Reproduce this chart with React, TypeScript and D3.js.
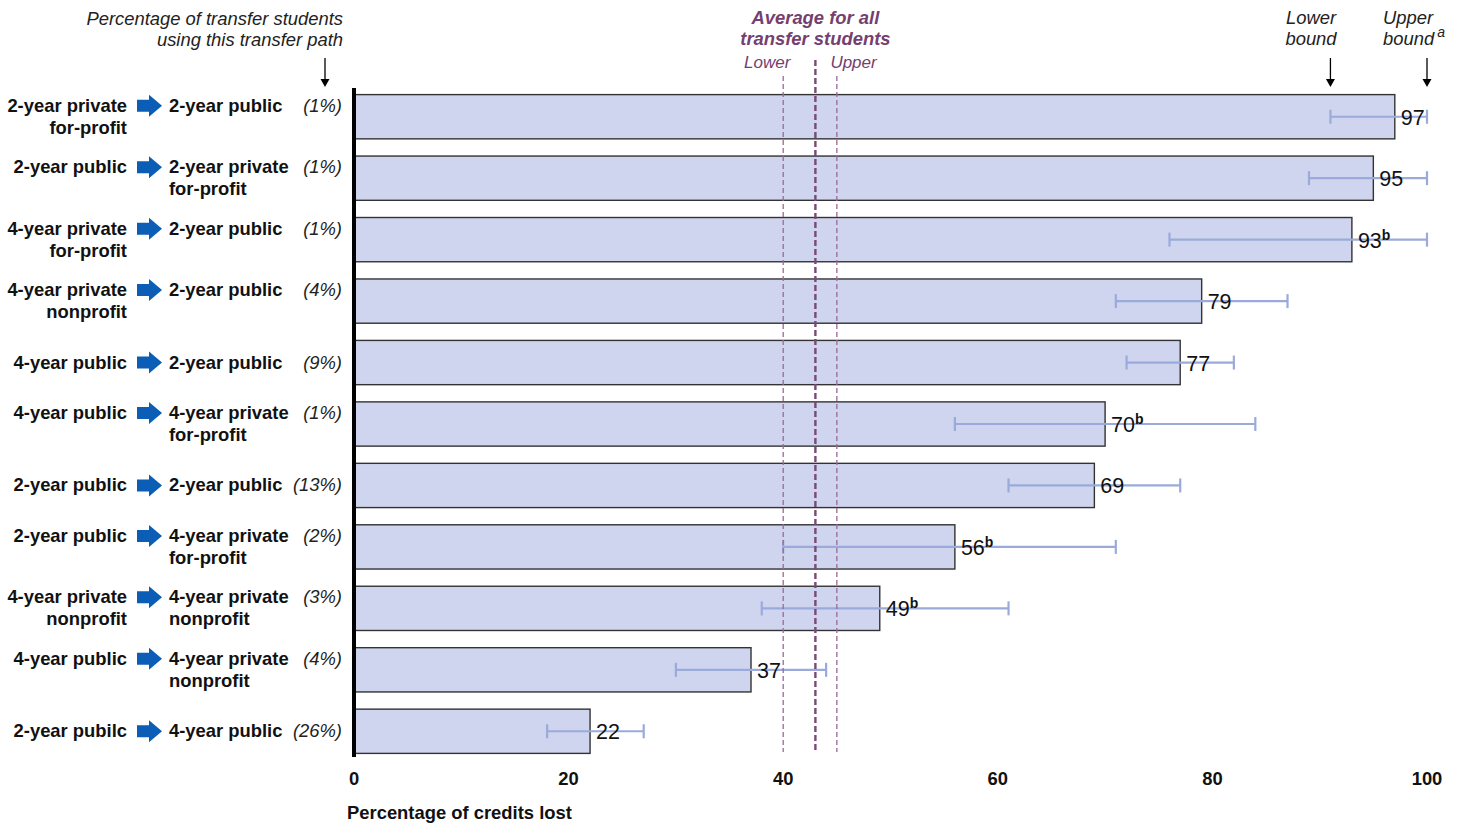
import React from "react";
import * as d3 from "d3";

const fromLabels = [
  "2-year private|for-profit",
  "2-year public",
  "4-year private|for-profit",
  "4-year private|nonprofit",
  "4-year public",
  "4-year public",
  "2-year public",
  "2-year public",
  "4-year private|nonprofit",
  "4-year public",
  "2-year pubilc",
];
const toLabels = [
  "2-year public",
  "2-year private|for-profit",
  "2-year public",
  "2-year public",
  "2-year public",
  "4-year private|for-profit",
  "2-year public",
  "4-year private|for-profit",
  "4-year private|nonprofit",
  "4-year private|nonprofit",
  "4-year public",
];
const shares = ["(1%)", "(1%)", "(1%)", "(4%)", "(9%)", "(1%)", "(13%)", "(2%)", "(3%)", "(4%)", "(26%)"];
const values = [97, 95, 93, 79, 77, 70, 69, 56, 49, 37, 22];
const lowerBounds = [91, 89, 76, 71, 72, 56, 61, 40, 38, 30, 18];
const upperBounds = [100, 100, 100, 87, 82, 84, 77, 71, 61, 44, 27];
const footnoteB = [false, false, true, false, false, true, false, true, true, false, false];
const xTicks = [0, 20, 40, 60, 80, 100];
const avgAll = 43;
const avgLower = 40;
const avgUpper = 45;

const FONT = "'Liberation Sans', Arial, sans-serif";
const PURPLE = "#74406F";
const FS = 18.4;

export default function App() {
  const W = 1460;
  const H = 825;
  const x = d3.scaleLinear().domain([0, 100]).range([354, 1427]);
  const idx = values.map((_, i) => i);
  const y = d3.scaleBand<number>().domain(idx).range([86, 762]).paddingInner(0.28).paddingOuter(0.14);
  const bw = y.bandwidth();
  const cy = (i: number) => (y(i) as number) + bw / 2;
  const barColor = "#CFD5EE";
  const errColor = "#9AAADA";

  const arrowDown = (ax: number, y0: number, y1: number) => (
    <g>
      <line x1={ax} x2={ax} y1={y0} y2={y1 - 6} stroke="#000" strokeWidth={1.3} />
      <path d={`M${ax - 4.5},${y1 - 8} L${ax + 4.5},${y1 - 8} L${ax},${y1} Z`} fill="#000" />
    </g>
  );

  return (
    <svg width={W} height={H} style={{ position: "absolute", left: 0, top: 0, display: "block", background: "#fff" }} fontFamily={FONT}>
      {/* header left */}
      <text x={343} y={25} textAnchor="end" fontSize={FS} fontStyle="italic" fill="#222">Percentage of transfer students</text>
      <text x={343} y={46} textAnchor="end" fontSize={FS} fontStyle="italic" fill="#222">using this transfer path</text>
      {arrowDown(325, 58, 87)}

      {/* average label */}
      <text x={x(avgAll)} y={24} textAnchor="middle" fontSize={FS} fontWeight="bold" fontStyle="italic" fill={PURPLE}>Average for all</text>
      <text x={x(avgAll)} y={45} textAnchor="middle" fontSize={FS} fontWeight="bold" fontStyle="italic" fill={PURPLE}>transfer students</text>
      <text x={x(avgAll) - 25} y={68} textAnchor="end" fontSize={17} fontStyle="italic" fill={PURPLE}>Lower</text>
      <text x={x(avgAll) + 15} y={68} textAnchor="start" fontSize={17} fontStyle="italic" fill={PURPLE}>Upper</text>

      {/* bound labels */}
      <text x={1311} y={24} textAnchor="middle" fontSize={FS} fontStyle="italic" fill="#222">Lower</text>
      <text x={1311} y={45} textAnchor="middle" fontSize={FS} fontStyle="italic" fill="#222">bound</text>
      {arrowDown(x(91), 58, 87)}
      <text x={1408} y={24} textAnchor="middle" fontSize={FS} fontStyle="italic" fill="#222">Upper</text>
      <text x={1383} y={45} textAnchor="start" fontSize={FS} fontStyle="italic" fill="#222">bound<tspan dx={3} dy={-8} fontSize={14}>a</tspan></text>
      {arrowDown(x(100), 58, 87)}

      {/* bars */}
      {values.map((v, i) => (
        <rect key={"b" + i} x={x(0)} y={y(i)} width={x(v) - x(0)} height={bw} fill={barColor} stroke="#333" strokeWidth={1.4} />
      ))}

      {/* error bars */}
      {values.map((v, i) => (
        <g key={"e" + i} stroke={errColor} strokeWidth={2.2}>
          <line x1={x(lowerBounds[i])} x2={x(upperBounds[i])} y1={cy(i)} y2={cy(i)} />
          <line x1={x(lowerBounds[i])} x2={x(lowerBounds[i])} y1={cy(i) - 7} y2={cy(i) + 7} />
          <line x1={x(upperBounds[i])} x2={x(upperBounds[i])} y1={cy(i) - 7} y2={cy(i) + 7} />
        </g>
      ))}

      {/* average lines */}
      <line x1={x(avgLower)} x2={x(avgLower)} y1={76} y2={752} stroke="#9A6A94" strokeWidth={1.3} strokeDasharray="5,3" />
      <line x1={x(avgUpper)} x2={x(avgUpper)} y1={76} y2={752} stroke="#9A6A94" strokeWidth={1.3} strokeDasharray="5,3" />
      <line x1={x(avgAll)} x2={x(avgAll)} y1={60} y2={752} stroke="#7A4A76" strokeWidth={2.4} strokeDasharray="6,3" />

      {/* value labels */}
      {values.map((v, i) => (
        <text key={"v" + i} x={x(v) + 6} y={cy(i) + 8} fontSize={21.5} fill="#111">
          {v}
          {footnoteB[i] ? <tspan dy={-8} fontSize={14} fontWeight="bold">b</tspan> : null}
        </text>
      ))}

      {/* left axis */}
      <line x1={x(0)} x2={x(0)} y1={88} y2={757} stroke="#000" strokeWidth={4} />

      {/* category labels */}
      {values.map((_, i) => {
        const fl = fromLabels[i].split("|");
        const tl = toLabels[i].split("|");
        const multi = fl.length > 1 || tl.length > 1;
        const first = multi ? cy(i) - 11 : cy(i);
        const lh = 22;
        const ay = first;
        return (
          <g key={"l" + i}>
            {fl.map((t, k) => (
              <text key={k} x={127} y={first + k * lh + 6} textAnchor="end" fontSize={FS} fontWeight="bold" fill="#111">{t}</text>
            ))}
            <path
              d={`M137,${ay - 6} L149,${ay - 6} L149,${ay - 11} L162,${ay} L149,${ay + 11} L149,${ay + 6} L137,${ay + 6} Z`}
              fill="#0B5DB5"
            />
            {tl.map((t, k) => (
              <text key={k} x={169} y={first + k * lh + 6} textAnchor="start" fontSize={FS} fontWeight="bold" fill="#111">{t}</text>
            ))}
            <text x={342} y={first + 6} textAnchor="end" fontSize={FS} fontStyle="italic" fill="#222">{shares[i]}</text>
          </g>
        );
      })}

      {/* x axis tick labels */}
      {xTicks.map((t) => (
        <text key={"t" + t} x={x(t)} y={785} textAnchor="middle" fontSize={FS} fontWeight="bold" fill="#111">{t}</text>
      ))}
      <text x={347} y={819} fontSize={FS} fontWeight="bold" fill="#111">Percentage of credits lost</text>
    </svg>
  );
}
